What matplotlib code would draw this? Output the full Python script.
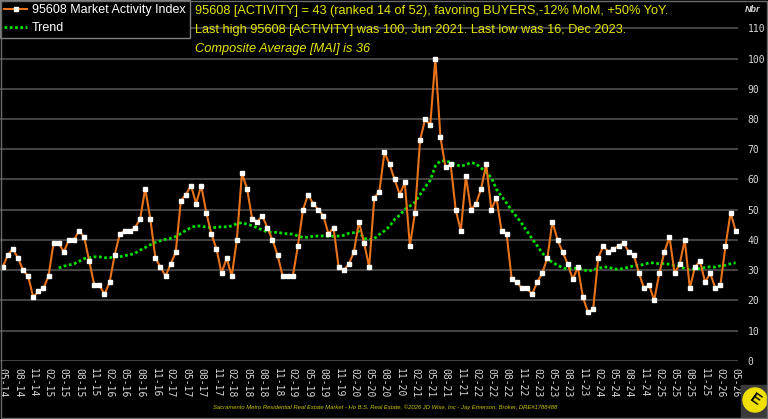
import matplotlib.pyplot as plt
from matplotlib.patches import Rectangle, Ellipse

# monthly activity index, May 2014 .. May 2026
activity = [31, 35, 37, 34, 30, 28, 21, 23, 24, 28,
            39, 39, 36, 40, 40, 43, 41, 33, 25, 25,
            22, 26, 35, 42, 43, 43, 44, 47, 57, 47,
            34, 31, 28, 32, 36, 53, 55, 58, 52, 58,
            49, 42, 37, 29, 34, 28, 40, 62, 57, 47,
            46, 48, 44, 40, 35, 28, 28, 28, 38, 50,
            55, 52, 50, 48, 42, 44, 31, 30, 32, 36,
            46, 39, 31, 54, 56, 69, 65, 60, 55, 59,
            38, 49, 73, 80, 78, 100, 74, 64, 65, 50,
            43, 61, 50, 52, 57, 65, 50, 54, 43, 42,
            27, 26, 24, 24, 22, 26, 29, 34, 46, 40,
            36, 32, 27, 31, 21, 16, 17, 34, 38, 36,
            37, 38, 39, 36, 35, 29, 24, 25, 20, 29,
            36, 41, 29, 32, 40, 24, 31, 33, 26, 29,
            24, 25, 38, 49, 43]

# trend starts at the 12th month (Apr 2015)
trend_start = 11
trend = [30.7, 31.3, 31.7, 32.1, 32.9, 33.8, 34.1, 34.4, 34.4, 34.1,
         34.1, 34.4, 34.4, 34.8, 35.1, 35.6, 36.6, 37.5, 38.4, 39.2,
         39.7, 40.2, 40.5, 41.1, 42.1, 43.2, 44.1, 44.6, 44.6, 44.2,
         44.1, 44.1, 44.4, 44.3, 44.6, 45.4, 45.7, 45.2, 44.7, 44.0,
         43.3, 42.6, 42.5, 42.5, 42.2, 42.0, 41.9, 41.3, 40.8, 40.9,
         41.2, 41.3, 41.3, 41.2, 41.2, 41.3, 41.5, 42.2, 42.4, 42.8,
         40.5, 40.1, 40.4, 41.8, 43.0, 44.5, 46.8, 48.2, 50.1, 51.2,
         52.5, 55.0, 57.5, 59.7, 64.5, 66.2, 66.1, 65.7, 64.9, 64.4,
         64.9, 65.6, 65.2, 63.8, 62.3, 60.6, 56.8, 54.4, 52.2, 49.7,
         47.6, 45.4, 42.9, 40.4, 38.1, 35.7, 33.8, 32.6, 31.6, 30.8,
         30.3, 30.6, 30.7, 30.2, 29.6, 30.1, 30.6, 31.0, 31.0, 30.4,
         30.3, 30.6, 31.0, 31.4, 31.6, 31.9, 32.4, 32.4, 32.1, 32.2,
         31.9, 31.5, 31.2, 30.5, 30.0, 30.4, 30.5, 30.9, 31.1, 31.0,
         31.4, 31.6, 32.1, 32.4]

tick_labels = ['05-14', '08-14', '11-14',
               '02-15', '05-15', '08-15', '11-15',
               '02-16', '05-16', '08-16', '11-16',
               '02-17', '05-17', '08-17', '11-17',
               '02-18', '05-18', '08-18', '11-18',
               '02-19', '05-19', '08-19', '11-19',
               '02-20', '05-20', '08-20', '11-20',
               '02-21', '05-21', '08-21', '11-21',
               '02-22', '05-22', '08-22', '11-22',
               '02-23', '05-23', '08-23', '11-23',
               '02-24', '05-24', '08-24', '11-24',
               '02-25', '05-25', '08-25', '11-25',
               '02-26', '05-26']

plt.rcParams['font.family'] = ['Liberation Sans', 'DejaVu Sans']

fig = plt.figure(figsize=(7.68, 4.19), dpi=100, facecolor='black')
ax = fig.add_axes([0, 0.139, 0.961, 0.861])
ax.set_facecolor('black')

ax.plot(range(len(activity)), activity, color='#e8731a', lw=1.5,
        marker='s', ms=2.2, mfc='white', mec='white',
        label='95608 Market Activity Index', zorder=3)
ax.plot(range(trend_start, trend_start + len(trend)), trend, color='#00e000',
        lw=2, dashes=(1, 0.9), label='Trend', zorder=2)

ax.set_xlim(-0.53, 144.47)
ax.set_ylim(0, 119.4)
ax.set_yticks(range(0, 111, 10))
ax.yaxis.tick_right()
ax.tick_params(axis='y', length=0, pad=7, labelcolor='#d8d8d8', labelsize=7)
for lbl in ax.get_yticklabels():
    lbl.set_family('DejaVu Sans Mono')
ax.set_xticks(range(0, len(activity), 3))
ax.set_xticklabels(tick_labels, rotation=270, family='DejaVu Sans Mono',
                   fontsize=7, color='#d8d8d8')
ax.tick_params(axis='x', length=0, pad=5)
ax.grid(axis='y', color='#505050', lw=1.2)
ax.set_axisbelow(True)
for s in ax.spines.values():
    s.set_visible(False)

leg = ax.legend(loc='upper left', bbox_to_anchor=(0, 1), bbox_transform=fig.transFigure,
                frameon=True, facecolor='black', edgecolor='#808080', fancybox=False,
                framealpha=1, borderaxespad=0, fontsize=9, handlelength=1.8,
                handletextpad=0.4, borderpad=0.35, labelspacing=0.45, labelcolor='white')
leg.get_frame().set_linewidth(1)

yellow = '#e6e600'
fig.text(195 / 768, 1 - 11 / 419, '95608 [ACTIVITY] = 43 (ranked 14 of 52), favoring BUYERS,-12% MoM, +50% YoY.',
         color=yellow, fontsize=9.15, va='center')
fig.text(195 / 768, 1 - 30 / 419, 'Last high 95608 [ACTIVITY] was 100, Jun 2021. Last low was 16, Dec 2023.',
         color=yellow, fontsize=9.15, va='center')
fig.text(195 / 768, 1 - 49 / 419, 'Composite Average [MAI] is 36',
         color=yellow, fontsize=9.15, va='center', style='italic')
fig.text(753 / 768, 1 - 10 / 419, 'Nbr', color='#d8d8d8', fontsize=6.5,
         style='italic', weight='bold', ha='center', va='center')
fig.text(385 / 768, 1 - 407 / 419,
         'Sacramento Metro Residential Real Estate Market - Ho B.S. Real Estate, \u00a92026 JD Wise, Inc - Jay Emerson, Broker, DRE#1788488',
         color='#c8c800', fontsize=4.2, style='italic', ha='center', va='center')

# logo in the corner
fig.patches.append(Rectangle((741 / 768, 2 / 419), 26 / 768, 32 / 419,
                             transform=fig.transFigure, color='#3a3a3a'))
fig.patches.append(Ellipse((755 / 768, 19 / 419), 24 / 768, 24 / 419,
                           transform=fig.transFigure, color='#f0e000'))
fig.text(755 / 768, 19 / 419, 'E', color='black', fontsize=11, weight='bold',
         rotation=-35, ha='center', va='center')

fig.patches.append(Rectangle((0.001, 0.002), 0.998, 0.996, transform=fig.transFigure,
                             fill=False, edgecolor='#6a6a6a', lw=1))

fig.savefig('out.png', dpi=100, facecolor='black')
